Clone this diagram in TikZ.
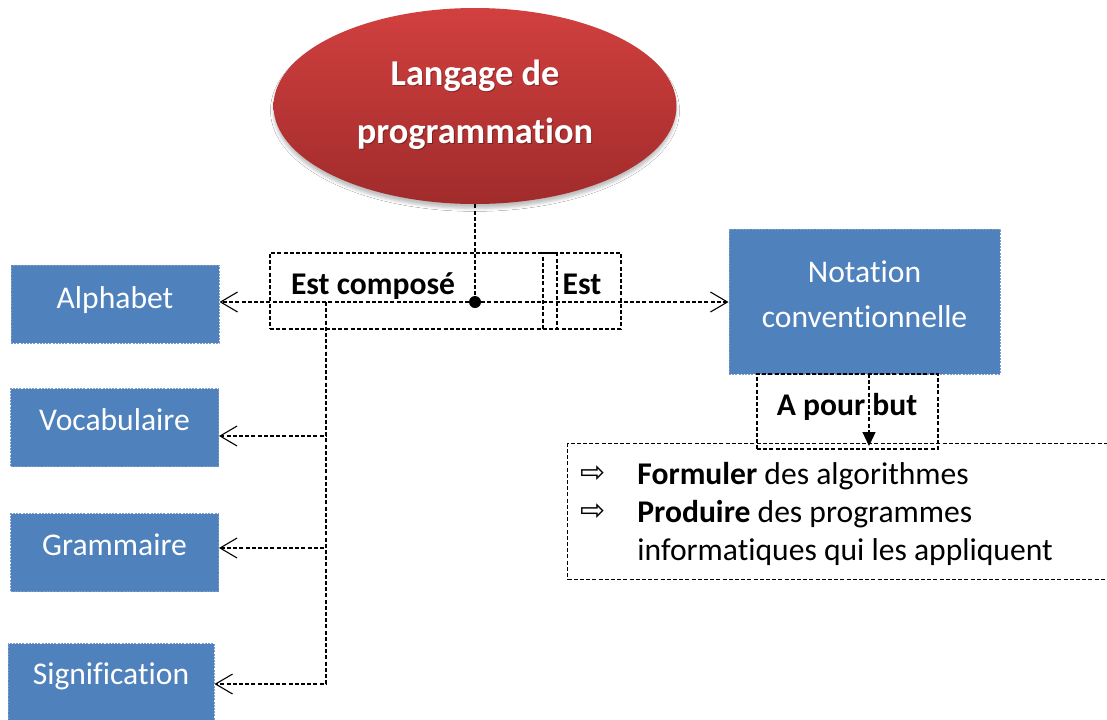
\documentclass[tikz,border=0pt]{standalone}
\usepackage{fontspec}
\setmainfont{Carlito}[Ligatures=NoCommon, RawFeature={-liga;-dlig;-clig}]
\newfontfamily\symfont{DejaVu Sans}
\usetikzlibrary{shapes.geometric,arrows.meta,shadows.blur}

\definecolor{boxblue}{HTML}{4F81BD}
\definecolor{boxedge}{HTML}{7C9AC6}
\definecolor{redtop}{HTML}{D1403F}
\definecolor{redbot}{HTML}{A12B2B}

\tikzset{
  conn/.style={draw=black, line width=0.6pt, dash pattern=on 2pt off 1.1pt},
  opentip/.style={-{Straight Barb[length=8.5pt,width=10pt,line width=0.55pt]}},
  filltip/.style={-{Triangle[length=7pt,width=6.5pt]}},
  conceptbox/.style={rectangle, fill=boxblue, draw=boxedge, line width=0.5pt,
    dash pattern=on 1pt off 0.6pt, minimum width=104pt, minimum height=39pt, inner sep=0pt},
  relbox/.style={rectangle, draw=black, line width=0.6pt,
    dash pattern=on 2pt off 1.1pt, inner sep=0pt},
  boxtext/.style={font=\fontsize{15.8}{19}\selectfont, text=white, anchor=base, inner sep=0pt},
  reltext/.style={font=\bfseries\fontsize{15.8}{19}\selectfont, anchor=base, inner sep=0pt},
  bodytext/.style={font=\fontsize{15.8}{19}\selectfont, anchor=base west, inner sep=0pt},
  bullet/.style={font=\symfont\fontsize{15}{17}\selectfont, inner sep=0pt},
  titletext/.style={font=\bfseries\fontsize{18.2}{22}\selectfont, anchor=base, inner sep=0pt},
}

\begin{document}
\begin{tikzpicture}[x=0.5pt,y=-0.5pt]
\clip (0,0) rectangle (1107,719);
\fill[white] (0,0) rectangle (1107,719);

% central concept
\node[ellipse, minimum width=201.5pt, minimum height=98pt, draw=none,
  top color=redtop, bottom color=redbot,
  blur shadow={shadow xshift=0pt, shadow yshift=-2.2pt, shadow opacity=25, shadow blur radius=1.5pt}]
  (lang) at (475,106) {};
\node[titletext, text=black, opacity=0.3] (langS1) at (476,86) {Langage de};
\node[titletext, text=black, opacity=0.3] (langS2) at (476,144) {programmation};
\node[titletext, text=white] (langT1) at (475,85) {Langage de};
\node[titletext, text=white] (langT2) at (475,143) {programmation};

% components
\node[conceptbox] (alpha) at (115,304) {};
\node[boxtext] (alphaT) at (115,308) {Alphabet};
\node[conceptbox] (vocab) at (114.5,427.5) {};
\node[boxtext] (vocabT) at (114.5,430) {Vocabulaire};
\node[conceptbox] (gram) at (114.5,552.5) {};
\node[boxtext] (gramT) at (114.5,555) {Grammaire};
\node[conceptbox, minimum width=103pt] (sig) at (111,682.5) {};
\node[boxtext] (sigT) at (111,684) {Signification};

% definition
\node[conceptbox, minimum width=135.5pt, minimum height=72.5pt] (nota) at (864.5,301.5) {};
\node[boxtext] (notaT1) at (864.5,282) {Notation};
\node[boxtext] (notaT2) at (864.5,327) {conventionnelle};

% relation labels
\node[relbox, minimum width=143.5pt, minimum height=38pt] (composeBox) at (413.5,291) {};
\node[relbox, minimum width=39pt, minimum height=38pt] (estBox) at (582,291) {};
\node[reltext] (composeT) at (373,294) {Est composé};
\node[reltext] (estT) at (582,294) {Est};
\node[relbox, minimum width=90.5pt, minimum height=37.5pt] (butBox) at (847.5,411.5) {};
\node[reltext] (butT) at (847,415) {A pour but};

% goals
\node[relbox, minimum width=316.5pt, minimum height=68pt, anchor=north west] (goals) at (567,443) {};
\node[bullet] (b1) at (593,474) {⇨};
\node[bullet] (b2) at (593,512) {⇨};
\node[bodytext] (g1) at (637,484) {\textbf{Formuler} des algorithmes};
\node[bodytext] (g2) at (637,522) {\textbf{Produire} des programmes};
\node[bodytext] (g3) at (637,560) {informatiques qui les appliquent};

% connectors
\node[circle, fill=black, inner sep=0pt, minimum size=6pt] (hub) at (475,302) {};
\draw[conn] (lang.south) -- (hub.center);
\draw[conn, opentip] (hub.center) -- (hub -| alpha.east);
\draw[conn, opentip] (hub.center) -- (hub -| nota.west);
\coordinate (fork) at (326,302);
\draw[conn, opentip] (fork) |- ([yshift=-4.25pt]vocab.east);
\draw[conn, opentip] (fork) |- ([yshift=2.25pt]gram.east);
\draw[conn, opentip] (fork) |- ([yshift=-0.75pt]sig.east);
\coordinate (aim) at (869,374);
\draw[conn, filltip] (aim) -- ([yshift=-1.5pt]aim |- goals.north);
\end{tikzpicture}
\end{document}
